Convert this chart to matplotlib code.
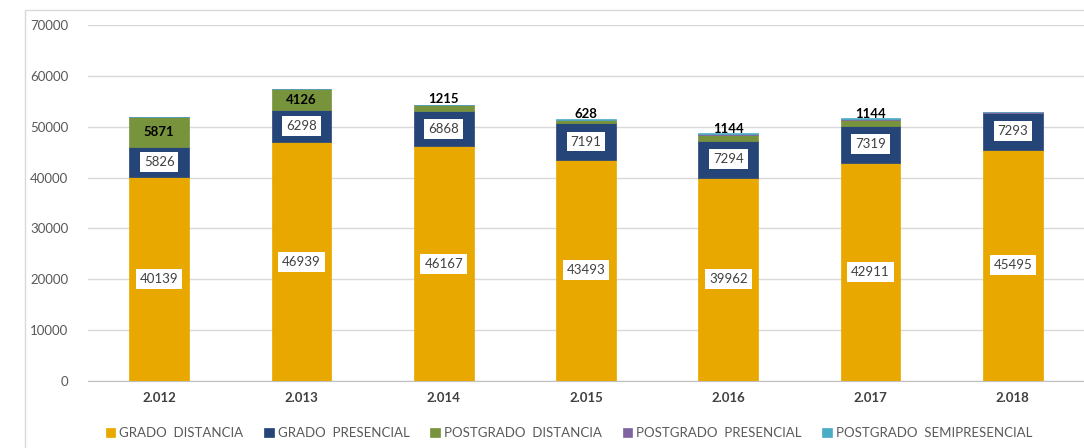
import matplotlib
matplotlib.use("Agg")
import matplotlib.pyplot as plt
from matplotlib.patches import Rectangle
import numpy as np

plt.rcParams['font.family'] = ['Lato', 'DejaVu Sans']

years = ["2.012", "2.013", "2.014", "2.015", "2.016", "2.017", "2.018"]
grado_distancia = [40139, 46939, 46167, 43493, 39962, 42911, 45495]
grado_presencial = [5826, 6298, 6868, 7191, 7294, 7319, 7293]
postgrado_distancia = [5871, 4126, 1215, 628, 1144, 1144, 0]
postgrado_presencial = [0, 0, 0, 60, 150, 150, 150]
postgrado_semipresencial = [0, 0, 0, 200, 300, 250, 0]

series = [
    ("GRADO  DISTANCIA", grado_distancia, "#E8A800"),
    ("GRADO  PRESENCIAL", grado_presencial, "#254478"),
    ("POSTGRADO  DISTANCIA", postgrado_distancia, "#77933C"),
    ("POSTGRADO  PRESENCIAL", postgrado_presencial, "#8064A2"),
    ("POSTGRADO  SEMIPRESENCIAL", postgrado_semipresencial, "#4BACC6"),
]

fig = plt.figure(figsize=(10.84, 4.48), dpi=100)
fig.patches.append(Rectangle((25/1084, -0.01), 1.05, 1 - 10/448 + 0.01,
                             transform=fig.transFigure, fill=False,
                             edgecolor="#D9D9D9", linewidth=1.0))
ax = fig.add_axes([88/1084, 1 - 381/448, (1084 - 88)/1084, (381 - 25)/448])

x = np.arange(len(years))
width = 0.42
bottom = np.zeros(len(years))
for name, vals, col in series:
    vals = np.array(vals, dtype=float)
    ax.bar(x, vals, width, bottom=bottom, color=col, label=name,
           edgecolor=col, linewidth=0.5, zorder=3)
    bottom += vals

# labels
gd = np.array(grado_distancia, float)
gp = np.array(grado_presencial, float)
pdv = np.array(postgrado_distancia, float)
box = dict(boxstyle="square,pad=0.3", facecolor="white", edgecolor="none")
for i in range(len(years)):
    ax.text(x[i], gd[i] / 2, f"{int(gd[i])}", ha="center", va="center",
            fontsize=9.5, color="#404040", bbox=box, zorder=5)
    ax.text(x[i], gd[i] + gp[i] / 2, f"{int(gp[i])}", ha="center", va="center",
            fontsize=9.5, color="#404040", bbox=box, zorder=5)
    if pdv[i] > 0:
        if pdv[i] > 3000:
            ax.text(x[i], gd[i] + gp[i] + pdv[i] / 2, f"{int(pdv[i])}",
                    ha="center", va="center", fontsize=9.5, fontweight="bold",
                    color="black", zorder=5)
        else:
            ax.text(x[i], gd[i] + gp[i] + pdv[i], f"{int(pdv[i])}",
                    ha="center", va="bottom", fontsize=9.5, fontweight="bold",
                    color="black", zorder=5)

ax.set_xlim(-0.5, len(years) - 0.5)
ax.set_ylim(0, 70000)
ax.set_yticks(np.arange(0, 70001, 10000))
ax.yaxis.grid(True, color="#D9D9D9", linewidth=1.0, zorder=0)
ax.set_axisbelow(True)
for s in ["top", "right", "left"]:
    ax.spines[s].set_visible(False)
ax.spines["bottom"].set_color("#BFBFBF")
ax.tick_params(axis="y", length=0, labelsize=9.5, labelcolor="#595959", pad=14)
ax.tick_params(axis="x", length=0, labelsize=9.5, labelcolor="#404040", pad=8)
ax.set_xticks(x)
ax.set_xticklabels(years, fontweight="bold")
ax.patch.set_alpha(0)

leg = fig.legend(loc="center", bbox_to_anchor=(569/1084, 1 - 433/448), ncol=5,
                 frameon=False, fontsize=9.5, handlelength=0.7, handleheight=0.7,
                 handletextpad=0.3, columnspacing=1.6)
for t in leg.get_texts():
    t.set_color("#595959")

fig.savefig("out.png", dpi=100)
